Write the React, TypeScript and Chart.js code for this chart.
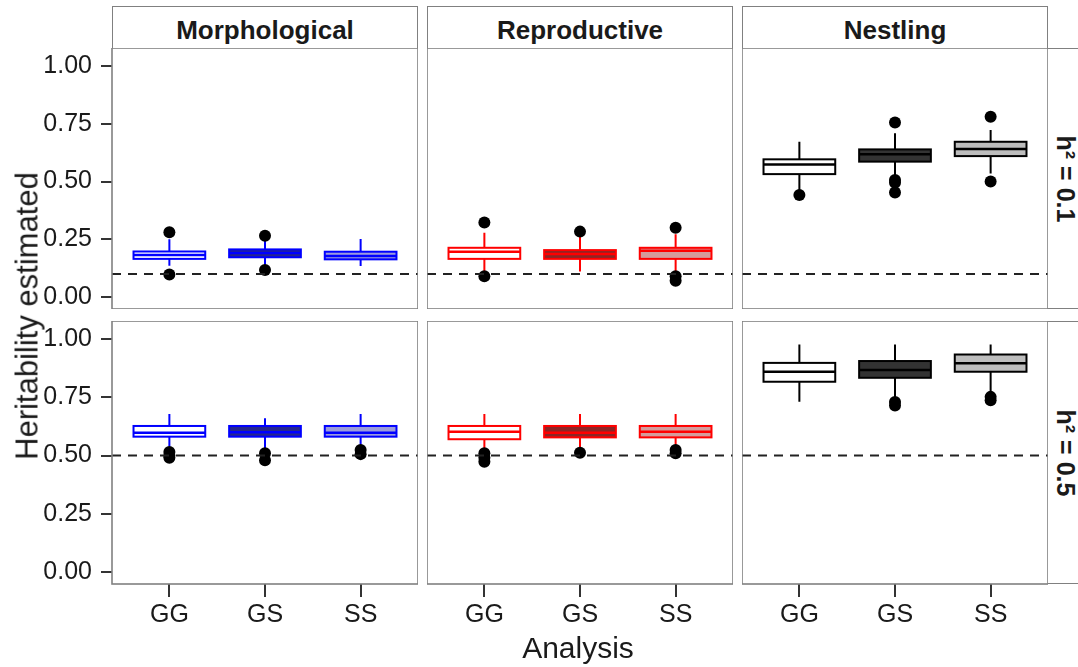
import React, { useEffect, useRef } from 'react';
import { Chart, registerables } from 'chart.js';

Chart.register(...registerables);

// ---- data ----
const analyses = ['GG', 'GS', 'SS'];
const traitGroups = ['Morphological', 'Reproductive', 'Nestling'];
const trueH2 = [0.1, 0.5];
const rowLabels = ['h\u00B2 = 0.1', 'h\u00B2 = 0.5'];
const yTickValues = [0, 0.25, 0.5, 0.75, 1];
const yTickLabels = ['0.00', '0.25', '0.50', '0.75', '1.00'];

// box statistics per analysis: [lower whisker, Q1, median, Q3, upper whisker]
const morphH01 = [
  [0.135, 0.165, 0.182, 0.197, 0.25],
  [0.14, 0.172, 0.19, 0.206, 0.244],
  [0.134, 0.163, 0.178, 0.196, 0.251],
];
const morphH01Outliers = [[0.28, 0.097], [0.265, 0.117], []];

const reproH01 = [
  [0.103, 0.165, 0.196, 0.213, 0.278],
  [0.11, 0.165, 0.186, 0.203, 0.27],
  [0.104, 0.165, 0.2, 0.213, 0.272],
];
const reproH01Outliers = [[0.322, 0.09], [0.283], [0.3, 0.09, 0.07]];

const nestH01 = [
  [0.456, 0.532, 0.574, 0.596, 0.672],
  [0.521, 0.586, 0.618, 0.639, 0.709],
  [0.535, 0.61, 0.641, 0.672, 0.723],
];
const nestH01Outliers = [[0.442], [0.755, 0.506, 0.495, 0.452], [0.78, 0.5]];

const morphH05 = [
  [0.538, 0.581, 0.598, 0.627, 0.678],
  [0.532, 0.581, 0.6, 0.627, 0.66],
  [0.538, 0.581, 0.598, 0.627, 0.678],
];
const morphH05Outliers = [[0.515, 0.5, 0.49], [0.51, 0.48], [0.524, 0.506]];

const reproH05 = [
  [0.524, 0.57, 0.602, 0.627, 0.678],
  [0.531, 0.578, 0.598, 0.627, 0.678],
  [0.538, 0.578, 0.602, 0.627, 0.678],
];
const reproH05Outliers = [[0.51, 0.49, 0.473], [0.512], [0.524, 0.51]];

const nestH05 = [
  [0.731, 0.817, 0.86, 0.898, 0.977],
  [0.745, 0.834, 0.867, 0.906, 0.977],
  [0.76, 0.86, 0.896, 0.934, 0.977],
];
const nestH05Outliers = [[], [0.73, 0.715], [0.752, 0.738]];

const panelStats = [
  [morphH01, reproH01, nestH01],
  [morphH05, reproH05, nestH05],
];
const panelOutliers = [
  [morphH01Outliers, reproH01Outliers, nestH01Outliers],
  [morphH05Outliers, reproH05Outliers, nestH05Outliers],
];

// ---- styling ----
const boxLines = ['#0000FF', '#FF0000', '#000000'];
const boxFills = [
  ['#FFFFFF', '#26268C', '#9C9CDB'],
  ['#FFFFFF', '#8C2626', '#D49C9C'],
  ['#FFFFFF', '#333333', '#BDBDBD'],
];

const FONT = '"Liberation Sans", Arial, sans-serif';
const TEXT = '#1a1a1a';
const FRAME = '#808080';

const X_MIN = 0.4;
const X_MAX = 3.6;
const Y_MIN = -0.052;
const Y_MAX = 1.078;
const BOX_WIDTH = 0.75;

const COL_LEFT = [112, 427, 742];
const PANEL_W = 306;
const ROW_TOP = [48, 321];
const ROW_H = [261, 263];
const Y_AXIS_W = 112;
const X_AXIS_H = 50;

function zeroPadding(s: any) {
  s.paddingLeft = 0;
  s.paddingRight = 0;
  s.paddingTop = 0;
  s.paddingBottom = 0;
}

function Panel({ row, col }: { row: number; col: number }) {
  const ref = useRef<HTMLCanvasElement>(null);
  const showY = col === 0;
  const showX = row === 1;
  const width = PANEL_W + (showY ? Y_AXIS_W : 0);
  const height = ROW_H[row] + (showX ? X_AXIS_H : 0);
  const left = showY ? COL_LEFT[col] - Y_AXIS_W : COL_LEFT[col];

  useEffect(() => {
    const stats = panelStats[row][col];
    const outliers = panelOutliers[row][col];
    const lineColor = boxLines[col];

    const boxPlot = {
      id: 'boxWhiskers',
      // whiskers sit behind the boxes
      beforeDatasetsDraw(chart: any) {
        const { ctx, scales } = chart;
        const { x, y } = scales;
        ctx.save();
        ctx.strokeStyle = lineColor;
        ctx.lineWidth = 2;
        stats.forEach((s, i) => {
          const px = x.getPixelForValue(i + 1);
          ctx.beginPath();
          ctx.moveTo(px, y.getPixelForValue(s[0]));
          ctx.lineTo(px, y.getPixelForValue(s[1]));
          ctx.moveTo(px, y.getPixelForValue(s[3]));
          ctx.lineTo(px, y.getPixelForValue(s[4]));
          ctx.stroke();
        });
        ctx.restore();
      },
      // box outline (centred on the hinges) and median, over the filled bars
      afterDatasetDraw(chart: any, args: any) {
        if (args.meta.type !== 'bar') return;
        const { ctx, scales } = chart;
        const { x, y } = scales;
        ctx.save();
        ctx.strokeStyle = lineColor;
        stats.forEach((s, i) => {
          const x0 = x.getPixelForValue(i + 1 - BOX_WIDTH / 2);
          const x1 = x.getPixelForValue(i + 1 + BOX_WIDTH / 2);
          const yq3 = y.getPixelForValue(s[3]);
          const yq1 = y.getPixelForValue(s[1]);
          ctx.lineWidth = 2;
          ctx.strokeRect(x0, yq3, x1 - x0, yq1 - yq3);
          const py = y.getPixelForValue(s[2]);
          ctx.lineWidth = 2.5;
          ctx.beginPath();
          ctx.moveTo(x0, py);
          ctx.lineTo(x1, py);
          ctx.stroke();
        });
        ctx.restore();
      },
      afterDraw(chart: any) {
        const { ctx, chartArea: a } = chart;
        ctx.save();
        ctx.strokeStyle = FRAME;
        ctx.lineWidth = 1.6;
        ctx.strokeRect(a.left, a.top, a.right - a.left, a.bottom - a.top);
        ctx.restore();
      },
    };

    const chart = new Chart(ref.current as HTMLCanvasElement, {
      type: 'scatter',
      data: {
        datasets: [
          {
            type: 'line',
            data: [
              { x: X_MIN, y: trueH2[row] },
              { x: X_MAX, y: trueH2[row] },
            ],
            borderColor: '#222222',
            borderWidth: 2,
            borderDash: [9, 7],
            pointRadius: 0,
            fill: false,
            order: 0,
          } as any,
          {
            type: 'scatter',
            data: outliers.flatMap((list, i) => list.map((v) => ({ x: i + 1, y: v }))),
            pointRadius: 6,
            pointHoverRadius: 6,
            backgroundColor: '#000000',
            borderColor: '#000000',
            borderWidth: 0,
            order: 1,
          } as any,
          {
            type: 'bar',
            data: stats.map((s, i) => ({ x: i + 1, y: [s[1], s[3]] })),
            backgroundColor: boxFills[col],
            borderWidth: 0,
            barPercentage: BOX_WIDTH,
            categoryPercentage: 1,
            order: 2,
          } as any,
        ],
      },
      options: {
        animation: false,
        responsive: false,
        maintainAspectRatio: false,
        layout: { padding: 0, autoPadding: false },
        events: [],
        plugins: { legend: { display: false }, tooltip: { enabled: false }, title: { display: false } },
        scales: {
          x: {
            type: 'linear',
            min: X_MIN,
            max: X_MAX,
            display: showX,
            offset: false,
            afterBuildTicks: (s: any) => {
              s.ticks = analyses.map((_, i) => ({ value: i + 1 }));
            },
            afterFit: (s: any) => {
              s.height = showX ? X_AXIS_H : 0;
              zeroPadding(s);
            },
            ticks: {
              callback: (v: any) => analyses[Number(v) - 1] ?? '',
              font: { family: FONT, size: 25 },
              color: TEXT,
              padding: 3,
              maxRotation: 0,
              autoSkip: false,
            },
            grid: {
              drawOnChartArea: false,
              drawTicks: true,
              tickLength: 13,
              color: '#333333',
              lineWidth: 2,
              offset: false,
            },
            border: { display: false },
          },
          y: {
            type: 'linear',
            min: Y_MIN,
            max: Y_MAX,
            display: showY,
            afterBuildTicks: (s: any) => {
              s.ticks = yTickValues.map((v) => ({ value: v }));
            },
            afterFit: (s: any) => {
              s.width = showY ? Y_AXIS_W : 0;
              zeroPadding(s);
            },
            ticks: {
              callback: (v: any) => yTickLabels[yTickValues.indexOf(Number(v))] ?? '',
              font: { family: FONT, size: 25 },
              color: TEXT,
              padding: 9,
            },
            grid: {
              drawOnChartArea: false,
              drawTicks: true,
              tickLength: 11,
              color: '#333333',
              lineWidth: 2,
            },
            border: { display: false },
          },
        },
      } as any,
      plugins: [boxPlot],
    });
    return () => chart.destroy();
  }, [row, col]);

  return (
    <canvas
      ref={ref}
      width={width}
      height={height}
      style={{ position: 'absolute', left, top: ROW_TOP[row], width, height, display: 'block' }}
    />
  );
}

export default function App() {
  return (
    <div
      style={{
        position: 'fixed',
        left: 0,
        top: 0,
        width: 1078,
        height: 667,
        overflow: 'hidden',
        background: '#ffffff',
        fontFamily: FONT,
        color: TEXT,
      }}
    >
      {traitGroups.map((g, c) => (
        <div
          key={g}
          style={{
            position: 'absolute',
            left: COL_LEFT[c],
            top: 6,
            width: PANEL_W,
            height: 42,
            boxSizing: 'border-box',
            border: `1.6px solid ${FRAME}`,
            borderBottom: 'none',
            display: 'flex',
            alignItems: 'center',
            justifyContent: 'center',
            fontWeight: 'bold',
            fontSize: 26,
            lineHeight: 1,
            paddingTop: 4,
          }}
        >
          {g}
        </div>
      ))}
      {rowLabels.map((label, r) => (
        <React.Fragment key={label}>
          <div
            style={{
              position: 'absolute',
              left: COL_LEFT[2] + PANEL_W,
              top: ROW_TOP[r],
              width: 1078 - (COL_LEFT[2] + PANEL_W),
              height: ROW_H[r],
              boxSizing: 'border-box',
              borderTop: `1.6px solid ${FRAME}`,
              borderBottom: `1.6px solid ${FRAME}`,
            }}
          />
          <div
            style={{
              position: 'absolute',
              left: 1065,
              top: ROW_TOP[r] + ROW_H[r] / 2,
              transform: 'translate(-50%, -50%) rotate(90deg)',
              whiteSpace: 'nowrap',
              fontWeight: 'bold',
              fontSize: 25,
              lineHeight: 1,
            }}
          >
            {label}
          </div>
        </React.Fragment>
      ))}
      {[0, 1].map((r) => [0, 1, 2].map((c) => <Panel key={`${r}-${c}`} row={r} col={c} />))}
      <div
        style={{
          position: 'absolute',
          left: 27,
          top: 316,
          transform: 'translate(-50%, -50%) rotate(-90deg)',
          whiteSpace: 'nowrap',
          fontSize: 31,
          lineHeight: 1,
        }}
      >
        Heritability estimated
      </div>
      <div
        style={{
          position: 'absolute',
          left: 578,
          top: 648,
          transform: 'translate(-50%, -50%)',
          whiteSpace: 'nowrap',
          fontSize: 30,
          lineHeight: 1,
        }}
      >
        Analysis
      </div>
    </div>
  );
}
